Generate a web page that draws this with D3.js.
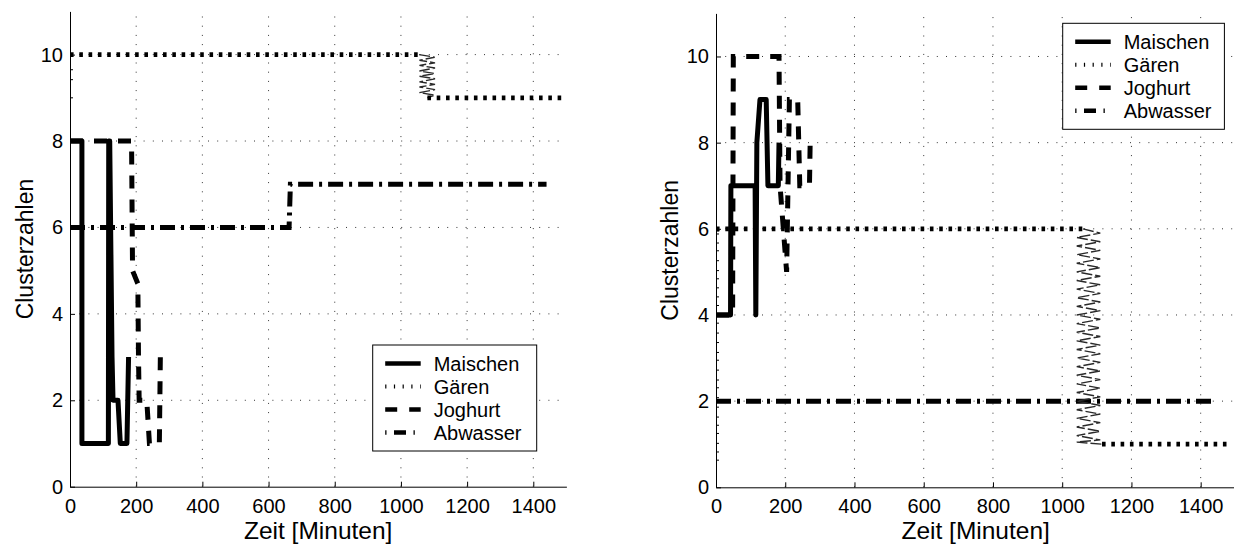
<!DOCTYPE html>
<html><head><meta charset="utf-8">
<script src="https://cdn.jsdelivr.net/npm/d3@7"></script>
<style>
html,body{margin:0;padding:0;background:#fff;}
svg text{font-family:"Liberation Sans",Arial,Helvetica,sans-serif;fill:#000;}
</style></head>
<body>
<svg id="chart" width="1234" height="546"></svg>
<script>
// ---------- data ----------
const xTicks = [0,200,400,600,800,1000,1200,1400];
const yTicks = [0,2,4,6,8,10];
const seriesNames = ["Maischen","Gären","Joghurt","Abwasser"];
const xLabel = "Zeit [Minuten]";
const yLabel = "Clusterzahlen";

// left panel
const leftMaischen = [[0,8],[36,8],[36,1],[116,1],[117,8],[120,8],[127,3],[130,2],[145,2],[152,1],[172,1],[177,3]];
const leftJoghurt  = [[0,8],[186,8],[189,5],[205,4.7],[207,3],[209,2],[232,2],[240,1],[270,1],[273,3]];
const leftGarenA   = [[0,10],[1055,10]];
const leftGarenZig = [[1055,10],[1102,9.94],[1056,9.87],[1103,9.81],[1056,9.75],[1103,9.69],[1056,9.62],[1103,9.56],[1056,9.5],[1103,9.44],[1056,9.37],[1103,9.31],[1056,9.25],[1103,9.19],[1056,9.12],[1103,9.06],[1080,9]];
const leftGarenB   = [[1080,9],[1490,9]];
const leftAbwasser = [[0,6],[662,6],[666,7],[1440,7]];
const leftMinorTicks = [9.65,9.42,9.0];

// right panel
const rightMaischen = [[0,4],[42,4],[43,7],[113,7],[115,4],[118,8],[127,9],[145,9],[150,7],[180,7],[182,8]];
const rightJoghurt  = [[0,4],[48,4],[50,10],[182,10],[185,7],[204,5],[212,9],[236,9],[242,7],[270,7],[272,8]];
const rightGarenA   = [[0,6],[1060,6]];
const rightGarenZig = [[1060,6],[1110,5.9],[1042,5.8],[1110,5.7],[1042,5.6],[1110,5.5],[1042,5.4],[1110,5.3],[1042,5.2],[1110,5.1],[1042,5.0],
  [1110,4.9],[1042,4.8],[1110,4.7],[1042,4.6],[1110,4.5],[1042,4.4],[1110,4.3],[1042,4.2],[1110,4.1],[1042,4.0],
  [1110,3.9],[1042,3.8],[1110,3.7],[1042,3.6],[1110,3.5],[1042,3.4],[1110,3.3],[1042,3.2],[1110,3.1],[1042,3.0],
  [1110,2.9],[1042,2.8],[1110,2.7],[1042,2.6],[1110,2.5],[1042,2.4],[1110,2.3],[1042,2.2],[1110,2.1],[1042,2.0],
  [1110,1.9],[1042,1.8],[1110,1.7],[1042,1.6],[1110,1.5],[1042,1.4],[1110,1.3],[1042,1.2],[1110,1.1],[1042,1.05],[1115,1]];
const rightGarenB   = [[1115,1],[1490,1]];
const rightAbwasser = [[0,2],[1440,2]];
const rightMinorTicks = [5.95,5.88,5.67,5.49,5.26,5.03,4.84,4.63,4.42,4.22,3.81,3.58,3.36,3.13,2.95,2.72,2.49,2.31,2.08,1.86,1.63,1.44,1.25,1.02,0.82,0.63];

// ---------- styles ----------
const styles = {
  "Maischen": {w:5,   dash:null,           join:"round"},
  "Gären":    {w:4.8, dash:"3.6,5.7",      join:"miter"},
  "Joghurt":  {w:5,   dash:"13,11",        join:"miter"},
  "Abwasser": {w:5,   dash:"15,6,3,6",     join:"miter"}
};
const legendDash = {"Maischen":null,"Gären":"1.2,7.5","Joghurt":"12,12","Abwasser":"1.3,7.5,12,7.5"};
const legendWidth = {"Maischen":4.5,"Gären":4,"Joghurt":4.5,"Abwasser":4.5};

const svg = d3.select("#chart");
const fmt = d3.format("d");

function panel(cfg){
  const x = d3.scaleLinear().domain([0,1500]).range([cfg.x0,cfg.x1]);
  const y = d3.scaleLinear().domain([0,11]).range([cfg.y0,cfg.y1]);
  const g = svg.append("g");

  // grid
  g.append("g").selectAll("line").data(xTicks.filter(d=>d>0)).join("line")
    .attr("x1",d=>x(d)).attr("x2",d=>x(d)).attr("y1",y(0)).attr("y2",y(11))
    .attr("stroke","#000").attr("stroke-width",0.8).attr("stroke-dasharray","1,8.2");
  g.append("g").selectAll("line").data(yTicks.filter(d=>d>0)).join("line")
    .attr("y1",d=>y(d)).attr("y2",d=>y(d)).attr("x1",x(0)).attr("x2",x(1500))
    .attr("stroke","#000").attr("stroke-width",0.8).attr("stroke-dasharray","1,8.2");

  // axes
  const xAxis = d3.axisBottom(x).tickValues(xTicks).tickFormat(fmt).tickSize(-5).tickSizeOuter(0).tickPadding(12);
  const gx = g.append("g").attr("transform",`translate(0,${y(0)})`).call(xAxis);
  gx.select(".domain").attr("stroke","#000");
  gx.selectAll(".tick line").attr("stroke","#000");
  gx.selectAll(".tick text").attr("font-size",20).attr("font-family","Liberation Sans, Arial, sans-serif");

  const yAxis = d3.axisLeft(y).tickValues(yTicks).tickFormat(fmt).tickSize(-5).tickSizeOuter(0).tickPadding(7);
  const gy = g.append("g").attr("transform",`translate(${x(0)},0)`).call(yAxis);
  gy.select(".domain").attr("stroke","#000");
  gy.selectAll(".tick line").attr("stroke","#000");
  gy.selectAll(".tick text").attr("font-size",20).attr("font-family","Liberation Sans, Arial, sans-serif");

  // minor ticks (irregular) on y axis
  g.append("g").selectAll("line").data(cfg.minor).join("line")
    .attr("x1",x(0)).attr("x2",x(0)+3).attr("y1",d=>y(d)).attr("y2",d=>y(d))
    .attr("stroke","#000").attr("stroke-width",1);

  // labels
  g.append("text").attr("x",(cfg.x0+cfg.x1)/2).attr("y",539).attr("text-anchor","middle")
    .attr("font-size",24.5).text(xLabel);
  g.append("text").attr("transform",`translate(${cfg.ylx},${(cfg.y0+cfg.y1)/2}) rotate(-90)`)
    .attr("text-anchor","middle").attr("font-size",23).text(yLabel);

  const line = d3.line().x(d=>x(d[0])).y(d=>y(d[1]));
  function draw(data,name,thin){
    const s = styles[name];
    const p = g.append("path").attr("d",line(data)).attr("fill","none").attr("stroke","#000");
    if(thin){
      p.attr("stroke-width",1.4).attr("stroke","#2a2a2a").attr("stroke-dasharray","11,3");
    } else {
      p.attr("stroke-width",s.w).attr("stroke-linejoin",s.join).attr("stroke-linecap","butt");
      if(s.dash) p.attr("stroke-dasharray",s.dash);
    }
  }
  draw(cfg.abw,"Abwasser");
  draw(cfg.garA,"Gären");
  draw(cfg.garZ,"Gären",true);
  draw(cfg.garB,"Gären");
  draw(cfg.jog,"Joghurt");
  draw(cfg.mai,"Maischen");

  // legend
  const lg = g.append("g").attr("transform",`translate(${cfg.lx},${cfg.ly})`);
  lg.append("rect").attr("x",0).attr("y",0).attr("width",cfg.lw).attr("height",106)
    .attr("fill","#fff").attr("stroke","#000").attr("stroke-width",1);
  seriesNames.forEach((n,i)=>{
    const cy = 18.5 + i*23;
    const l = lg.append("line").attr("x1",12.5).attr("x2",48).attr("y1",cy).attr("y2",cy)
      .attr("stroke","#000").attr("stroke-width",legendWidth[n]);
    if(legendDash[n]) l.attr("stroke-dasharray",legendDash[n]);
    lg.append("text").attr("x",61).attr("y",cy+7).attr("font-size",20).text(n);
  });
}

panel({x0:70,x1:566.4,y0:486.7,y1:11.4,ylx:33,minor:leftMinorTicks,
  mai:leftMaischen,jog:leftJoghurt,garA:leftGarenA,garZ:leftGarenZig,garB:leftGarenB,abw:leftAbwasser,
  lx:372.7,ly:345,lw:164});
panel({x0:716,x1:1235.3,y0:487.3,y1:13.4,ylx:678,minor:rightMinorTicks,
  mai:rightMaischen,jog:rightJoghurt,garA:rightGarenA,garZ:rightGarenZig,garB:rightGarenB,abw:rightAbwasser,
  lx:1062.7,ly:23.3,lw:161.7});
</script>
</body></html>
